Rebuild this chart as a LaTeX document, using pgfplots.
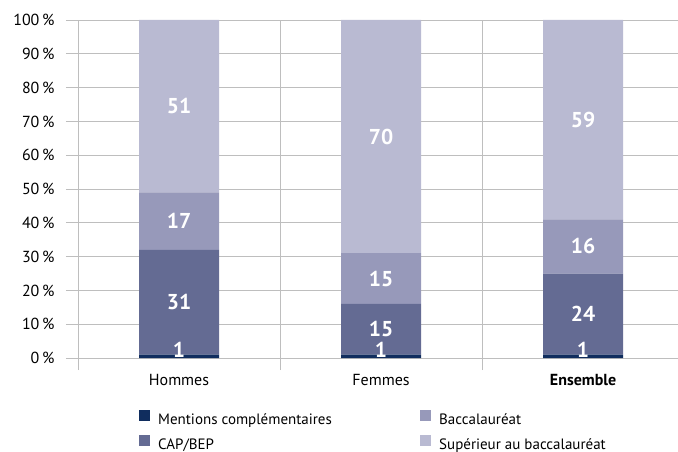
\documentclass[border=0pt]{standalone}
\usepackage{fontspec}
\setmainfont{PT Sans}
\usepackage{pgfplots}
\pgfplotsset{compat=1.18}
\definecolor{cMC}{RGB}{16,45,94}
\definecolor{cCAP}{RGB}{100,107,147}
\definecolor{cBAC}{RGB}{151,153,186}
\definecolor{cSUP}{RGB}{185,186,210}
\definecolor{cgrid}{RGB}{190,190,190}
\newcommand{\tf}{\fontsize{16bp}{18bp}\selectfont}
\newcommand{\lf}{\fontsize{15bp}{17bp}\selectfont}
\newcommand{\lb}[1]{\makebox[262bp][l]{#1}}
\begin{document}
\begin{tikzpicture}
\begin{axis}[
  scale only axis,
  width=600bp, height=338bp,
  xmin=-0.5, xmax=2.47,
  ymin=0, ymax=100,
  ybar stacked,
  bar width=80bp,
  clip=false,
  axis line style={draw=none},
  xtick={-0.5,0.5,1.5},
  xticklabels={},
  xmajorgrids,
  extra x ticks={0,1,2},
  extra x tick labels={Hommes,Femmes,\textbf{Ensemble}},
  extra x tick style={major tick length=0pt, grid=none,
    xticklabel style={yshift=-13bp}},
  ytick={0,10,...,100},
  yticklabel={\pgfmathprintnumber{\tick}\,\%},
  yticklabel style={xshift=-8bp},
  ymajorgrids,
  tick align=outside,
  major tick length=12bp,
  xtick pos=bottom, ytick pos=left,
  grid style={cgrid, line width=0.8bp},
  tick style={cgrid, line width=0.8bp},
  tick label style={font=\tf, black},
  /pgf/number format/assume math mode=true,
  point meta=explicit symbolic,
  nodes near coords,
  every node near coord/.append style={font=\bfseries\fontsize{21.5bp}{23bp}\selectfont,
    white, anchor=center},
  legend columns=2, transpose legend,
  legend style={draw=none, fill=none, inner sep=0pt,
    at={(axis description cs:0.1017,-0.154)}, anchor=north west,
    font=\lf, nodes={inner sep=0pt, text height=11bp, text depth=3bp},
    /tikz/every odd column/.append style={column sep=8bp}, row sep=7bp},
  legend image code/.code={\fill[#1] (0bp,-0.5bp) rectangle (11bp,10.5bp);},
]
\addplot[fill=cMC, draw=none, nodes near coords style={yshift=6bp}]
  coordinates {(0,1) [1] (1,1) [1] (2,1) [1]};
\addlegendentry{\lb{Mentions complémentaires}}
\addplot[fill=cCAP, draw=none] coordinates {(0,31) [31] (1,15) [15] (2,24) [24]};
\addlegendentry{\lb{CAP/BEP}}
\addplot[fill=cBAC, draw=none] coordinates {(0,17) [17] (1,15) [15] (2,16) [16]};
\addlegendentry{\lb{Baccalauréat}}
\addplot[fill=cSUP, draw=none] coordinates {(0,51) [51] (1,69) [70] (2,59) [59]};
\addlegendentry{\lb{Supérieur au baccalauréat}}
\end{axis}
\pgfresetboundingbox
\path (-78bp,-94bp) rectangle (600bp,358bp);
\end{tikzpicture}
\end{document}
